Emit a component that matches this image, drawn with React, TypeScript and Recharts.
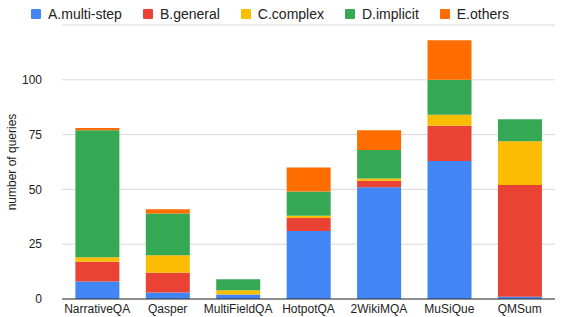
import { Bar, BarChart, CartesianGrid, XAxis, YAxis } from 'recharts'

const categories = ['NarrativeQA', 'Qasper', 'MultiFieldQA', 'HotpotQA', '2WikiMQA', 'MuSiQue', 'QMSum']
const multiStep = [8, 3, 2, 31, 51, 63, 1]
const general = [9, 9, 0, 6, 3, 16, 51]
const complex = [2, 8, 2, 1, 1, 5, 20]
const implicit = [58, 19, 5, 11, 13, 16, 10]
const others = [1, 2, 0, 11, 9, 18, 0]
const yTicks = [0, 25, 50, 75, 100]

const series = [
    { key: 'A.multi-step', values: multiStep, color: '#4285F4' },
    { key: 'B.general', values: general, color: '#EA4335' },
    { key: 'C.complex', values: complex, color: '#FBBC04' },
    { key: 'D.implicit', values: implicit, color: '#34A853' },
    { key: 'E.others', values: others, color: '#FF6D01' },
]

const data = categories.map((name, i) => {
    const row: any = { name }
    series.forEach(s => { row[s.key] = s.values[i] })
    return row
})

const font = 'Arial, "Liberation Sans", sans-serif'

export default function App() {
    return (
        <div style={{ position: 'fixed', left: 0, top: 0, width: 565, height: 317, background: '#fff', fontFamily: font }}>
            <div style={{ position: 'absolute', top: 6, left: 31, display: 'flex', alignItems: 'center', fontSize: 14, color: '#222' }}>
                {series.map(s => (
                    <div key={s.key} style={{ display: 'flex', alignItems: 'center', marginRight: 21 }}>
                        <span style={{ width: 10, height: 10, background: s.color, display: 'inline-block', marginRight: 7, borderRadius: 1 }} />
                        <span>{s.key}</span>
                    </div>
                ))}
            </div>
            <BarChart width={565} height={317} data={data} margin={{ top: 25, right: 10, left: 0, bottom: 0 }} barCategoryGap="19%">
                <CartesianGrid vertical={false} stroke="#d9d9d9" />
                <XAxis dataKey="name" height={18} tickLine={false} tickSize={0} tickMargin={5}
                    axisLine={{ stroke: '#333' }} tick={{ fontSize: 12, fill: '#222', fontFamily: font }} interval={0} />
                <YAxis width={62} domain={[0, 125]} ticks={yTicks} axisLine={false} tickLine={false} tickMargin={14}
                    tick={{ fontSize: 12, fill: '#222', fontFamily: font }}
                    label={{ value: 'number of queries', angle: -90, position: 'insideLeft', offset: 12, style: { fontSize: 12, fill: '#222', fontFamily: font, textAnchor: 'middle' } }} />
                {series.map(s => (
                    <Bar key={s.key} dataKey={s.key} stackId="a" fill={s.color} isAnimationActive={false} />
                ))}
            </BarChart>
        </div>
    )
}
